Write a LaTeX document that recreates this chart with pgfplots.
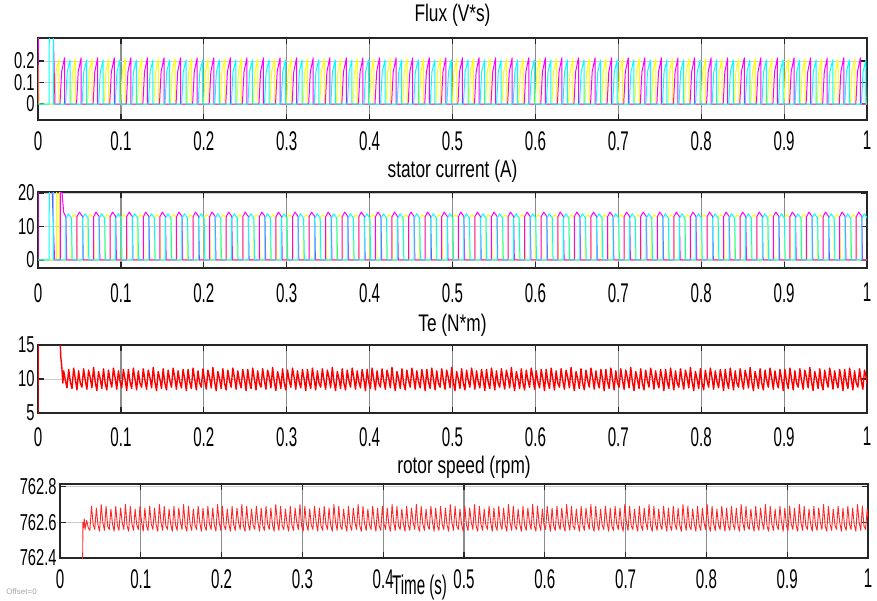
\documentclass[border=0pt]{standalone}
\usepackage{fontspec}
\setmainfont{Liberation Sans}
\newfontfamily\tfont{Liberation Sans}[FakeStretch=0.72]
\newfontfamily\xfont{Liberation Sans}[FakeStretch=0.56]
\newfontfamily\yfont{Liberation Sans}[FakeStretch=0.64]
\usepackage{pgfplots}
\usepackage{pgfplotstable}
\pgfplotsset{compat=1.18}
\definecolor{myel}{rgb}{1,1,0}
\definecolor{mmag}{rgb}{1,0,1}
\definecolor{mcya}{rgb}{0,1,1}
\definecolor{mred}{rgb}{1,0,0}
\pgfplotsset{
  scopeax/.style={
    scale only axis,
    anchor=north west,
    xmin=0, xmax=1000,
    xtick={0,100,200,300,400,500,600,700,800,900,1000},
    xticklabels={0,0.1,0.2,0.3,0.4,0.5,0.6,0.7,0.8,0.9,1},
    scaled ticks=false,
    tick align=inside,
    major tick length=3pt,
    tick style={black!85, line width=0.6pt},
    xmajorgrids, ymajorgrids,
    x grid style={black!45, line width=0.6pt},
    y grid style={black!20, line width=0.4pt},
    axis line style={black!85, line width=0.6pt},
    /pgf/number format/assume math mode=true,
    yticklabel style={font=\yfont\fontsize{11.5}{12}\selectfont, inner sep=1.5pt},
    every axis title shift=0pt,
    title style={font=\tfont\fontsize{12}{13}\selectfont, inner sep=1pt},
    every axis plot/.append style={line width=0.5pt, line join=round},
  },
  xtl/.style={xticklabel style={font=\xfont\fontsize{13.5}{14}\selectfont, inner sep=1pt, yshift=#1}},
}
\pgfplotstableread[row sep=\\]{
t te sp\\0 0 761\\0.2 30 761\\25 30 761.5\\26.8 15.5 762\\27.4 13.4 762.2\\28 12.6 762.38\\28.4 12.2 762.6\\29 11.3 762.57\\30 9.4 762.62\\31 11.2 762.56\\33 9.8 762.61\\35 8.7 762.57\\
37 11.4 762.555\\39 9.6 762.69\\41 8.6 762.59\\43 11.6 762.56\\45 10 762.68\\47 8.4 762.585\\
49 11.2 762.55\\51 9.4 762.7\\53 8.8 762.6\\55 11.5 762.555\\57 9.8 762.69\\59 8.5 762.58\\
61 11.3 762.56\\63 10.2 762.675\\65 8.7 762.59\\67 11.7 762.55\\69 9.6 762.69\\71 8.3 762.585\\
73 11.1 762.555\\75 10 762.68\\77 8.6 762.6\\79 11.5 762.56\\81 9.4 762.7\\83 8.4 762.58\\
85 11.3 762.55\\87 9.8 762.69\\89 8.8 762.59\\91 11.6 762.555\\93 10.2 762.675\\95 8.5 762.585\\
97 11.2 762.56\\99 9.6 762.69\\101 8.7 762.6\\103 11.4 762.55\\105 10 762.68\\107 8.3 762.58\\
109 11.4 762.555\\111 9.6 762.69\\113 8.6 762.59\\115 11.6 762.56\\117 10 762.68\\119 8.4 762.585\\
121 11.2 762.55\\123 9.4 762.7\\125 8.8 762.6\\127 11.5 762.555\\129 9.8 762.69\\131 8.5 762.58\\
133 11.3 762.56\\135 10.2 762.675\\137 8.7 762.59\\139 11.7 762.55\\141 9.6 762.69\\143 8.3 762.585\\
145 11.1 762.555\\147 10 762.68\\149 8.6 762.6\\151 11.5 762.56\\153 9.4 762.7\\155 8.4 762.58\\
157 11.3 762.55\\159 9.8 762.69\\161 8.8 762.59\\163 11.6 762.555\\165 10.2 762.675\\167 8.5 762.585\\
169 11.2 762.56\\171 9.6 762.69\\173 8.7 762.6\\175 11.4 762.55\\177 10 762.68\\179 8.3 762.58\\
181 11.4 762.555\\183 9.6 762.69\\185 8.6 762.59\\187 11.6 762.56\\189 10 762.68\\191 8.4 762.585\\
193 11.2 762.55\\195 9.4 762.7\\197 8.8 762.6\\199 11.5 762.555\\201 9.8 762.69\\203 8.5 762.58\\
205 11.3 762.56\\207 10.2 762.675\\209 8.7 762.59\\211 11.7 762.55\\213 9.6 762.69\\215 8.3 762.585\\
217 11.1 762.555\\219 10 762.68\\221 8.6 762.6\\223 11.5 762.56\\225 9.4 762.7\\227 8.4 762.58\\
229 11.3 762.55\\231 9.8 762.69\\233 8.8 762.59\\235 11.6 762.555\\237 10.2 762.675\\239 8.5 762.585\\
241 11.2 762.56\\243 9.6 762.69\\245 8.7 762.6\\247 11.4 762.55\\249 10 762.68\\251 8.3 762.58\\
253 11.4 762.555\\255 9.6 762.69\\257 8.6 762.59\\259 11.6 762.56\\261 10 762.68\\263 8.4 762.585\\
265 11.2 762.55\\267 9.4 762.7\\269 8.8 762.6\\271 11.5 762.555\\273 9.8 762.69\\275 8.5 762.58\\
277 11.3 762.56\\279 10.2 762.675\\281 8.7 762.59\\283 11.7 762.55\\285 9.6 762.69\\287 8.3 762.585\\
289 11.1 762.555\\291 10 762.68\\293 8.6 762.6\\295 11.5 762.56\\297 9.4 762.7\\299 8.4 762.58\\
301 11.3 762.55\\303 9.8 762.69\\305 8.8 762.59\\307 11.6 762.555\\309 10.2 762.675\\311 8.5 762.585\\
313 11.2 762.56\\315 9.6 762.69\\317 8.7 762.6\\319 11.4 762.55\\321 10 762.68\\323 8.3 762.58\\
325 11.4 762.555\\327 9.6 762.69\\329 8.6 762.59\\331 11.6 762.56\\333 10 762.68\\335 8.4 762.585\\
337 11.2 762.55\\339 9.4 762.7\\341 8.8 762.6\\343 11.5 762.555\\345 9.8 762.69\\347 8.5 762.58\\
349 11.3 762.56\\351 10.2 762.675\\353 8.7 762.59\\355 11.7 762.55\\357 9.6 762.69\\359 8.3 762.585\\
361 11.1 762.555\\363 10 762.68\\365 8.6 762.6\\367 11.5 762.56\\369 9.4 762.7\\371 8.4 762.58\\
373 11.3 762.55\\375 9.8 762.69\\377 8.8 762.59\\379 11.6 762.555\\381 10.2 762.675\\383 8.5 762.585\\
385 11.2 762.56\\387 9.6 762.69\\389 8.7 762.6\\391 11.4 762.55\\393 10 762.68\\395 8.3 762.58\\
397 11.4 762.555\\399 9.6 762.69\\401 8.6 762.59\\403 11.6 762.56\\405 10 762.68\\407 8.4 762.585\\
409 11.2 762.55\\411 9.4 762.7\\413 8.8 762.6\\415 11.5 762.555\\417 9.8 762.69\\419 8.5 762.58\\
421 11.3 762.56\\423 10.2 762.675\\425 8.7 762.59\\427 11.7 762.55\\429 9.6 762.69\\431 8.3 762.585\\
433 11.1 762.555\\435 10 762.68\\437 8.6 762.6\\439 11.5 762.56\\441 9.4 762.7\\443 8.4 762.58\\
445 11.3 762.55\\447 9.8 762.69\\449 8.8 762.59\\451 11.6 762.555\\453 10.2 762.675\\455 8.5 762.585\\
457 11.2 762.56\\459 9.6 762.69\\461 8.7 762.6\\463 11.4 762.55\\465 10 762.68\\467 8.3 762.58\\
469 11.4 762.555\\471 9.6 762.69\\473 8.6 762.59\\475 11.6 762.56\\477 10 762.68\\479 8.4 762.585\\
481 11.2 762.55\\483 9.4 762.7\\485 8.8 762.6\\487 11.5 762.555\\489 9.8 762.69\\491 8.5 762.58\\
493 11.3 762.56\\495 10.2 762.675\\497 8.7 762.59\\499 11.7 762.55\\501 9.6 762.69\\503 8.3 762.585\\
505 11.1 762.555\\507 10 762.68\\509 8.6 762.6\\511 11.5 762.56\\513 9.4 762.7\\515 8.4 762.58\\
517 11.3 762.55\\519 9.8 762.69\\521 8.8 762.59\\523 11.6 762.555\\525 10.2 762.675\\527 8.5 762.585\\
529 11.2 762.56\\531 9.6 762.69\\533 8.7 762.6\\535 11.4 762.55\\537 10 762.68\\539 8.3 762.58\\
541 11.4 762.555\\543 9.6 762.69\\545 8.6 762.59\\547 11.6 762.56\\549 10 762.68\\551 8.4 762.585\\
553 11.2 762.55\\555 9.4 762.7\\557 8.8 762.6\\559 11.5 762.555\\561 9.8 762.69\\563 8.5 762.58\\
565 11.3 762.56\\567 10.2 762.675\\569 8.7 762.59\\571 11.7 762.55\\573 9.6 762.69\\575 8.3 762.585\\
577 11.1 762.555\\579 10 762.68\\581 8.6 762.6\\583 11.5 762.56\\585 9.4 762.7\\587 8.4 762.58\\
589 11.3 762.55\\591 9.8 762.69\\593 8.8 762.59\\595 11.6 762.555\\597 10.2 762.675\\599 8.5 762.585\\
601 11.2 762.56\\603 9.6 762.69\\605 8.7 762.6\\607 11.4 762.55\\609 10 762.68\\611 8.3 762.58\\
613 11.4 762.555\\615 9.6 762.69\\617 8.6 762.59\\619 11.6 762.56\\621 10 762.68\\623 8.4 762.585\\
625 11.2 762.55\\627 9.4 762.7\\629 8.8 762.6\\631 11.5 762.555\\633 9.8 762.69\\635 8.5 762.58\\
637 11.3 762.56\\639 10.2 762.675\\641 8.7 762.59\\643 11.7 762.55\\645 9.6 762.69\\647 8.3 762.585\\
649 11.1 762.555\\651 10 762.68\\653 8.6 762.6\\655 11.5 762.56\\657 9.4 762.7\\659 8.4 762.58\\
661 11.3 762.55\\663 9.8 762.69\\665 8.8 762.59\\667 11.6 762.555\\669 10.2 762.675\\671 8.5 762.585\\
673 11.2 762.56\\675 9.6 762.69\\677 8.7 762.6\\679 11.4 762.55\\681 10 762.68\\683 8.3 762.58\\
685 11.4 762.555\\687 9.6 762.69\\689 8.6 762.59\\691 11.6 762.56\\693 10 762.68\\695 8.4 762.585\\
697 11.2 762.55\\699 9.4 762.7\\701 8.8 762.6\\703 11.5 762.555\\705 9.8 762.69\\707 8.5 762.58\\
709 11.3 762.56\\711 10.2 762.675\\713 8.7 762.59\\715 11.7 762.55\\717 9.6 762.69\\719 8.3 762.585\\
721 11.1 762.555\\723 10 762.68\\725 8.6 762.6\\727 11.5 762.56\\729 9.4 762.7\\731 8.4 762.58\\
733 11.3 762.55\\735 9.8 762.69\\737 8.8 762.59\\739 11.6 762.555\\741 10.2 762.675\\743 8.5 762.585\\
745 11.2 762.56\\747 9.6 762.69\\749 8.7 762.6\\751 11.4 762.55\\753 10 762.68\\755 8.3 762.58\\
757 11.4 762.555\\759 9.6 762.69\\761 8.6 762.59\\763 11.6 762.56\\765 10 762.68\\767 8.4 762.585\\
769 11.2 762.55\\771 9.4 762.7\\773 8.8 762.6\\775 11.5 762.555\\777 9.8 762.69\\779 8.5 762.58\\
781 11.3 762.56\\783 10.2 762.675\\785 8.7 762.59\\787 11.7 762.55\\789 9.6 762.69\\791 8.3 762.585\\
793 11.1 762.555\\795 10 762.68\\797 8.6 762.6\\799 11.5 762.56\\801 9.4 762.7\\803 8.4 762.58\\
805 11.3 762.55\\807 9.8 762.69\\809 8.8 762.59\\811 11.6 762.555\\813 10.2 762.675\\815 8.5 762.585\\
817 11.2 762.56\\819 9.6 762.69\\821 8.7 762.6\\823 11.4 762.55\\825 10 762.68\\827 8.3 762.58\\
829 11.4 762.555\\831 9.6 762.69\\833 8.6 762.59\\835 11.6 762.56\\837 10 762.68\\839 8.4 762.585\\
841 11.2 762.55\\843 9.4 762.7\\845 8.8 762.6\\847 11.5 762.555\\849 9.8 762.69\\851 8.5 762.58\\
853 11.3 762.56\\855 10.2 762.675\\857 8.7 762.59\\859 11.7 762.55\\861 9.6 762.69\\863 8.3 762.585\\
865 11.1 762.555\\867 10 762.68\\869 8.6 762.6\\871 11.5 762.56\\873 9.4 762.7\\875 8.4 762.58\\
877 11.3 762.55\\879 9.8 762.69\\881 8.8 762.59\\883 11.6 762.555\\885 10.2 762.675\\887 8.5 762.585\\
889 11.2 762.56\\891 9.6 762.69\\893 8.7 762.6\\895 11.4 762.55\\897 10 762.68\\899 8.3 762.58\\
901 11.4 762.555\\903 9.6 762.69\\905 8.6 762.59\\907 11.6 762.56\\909 10 762.68\\911 8.4 762.585\\
913 11.2 762.55\\915 9.4 762.7\\917 8.8 762.6\\919 11.5 762.555\\921 9.8 762.69\\923 8.5 762.58\\
925 11.3 762.56\\927 10.2 762.675\\929 8.7 762.59\\931 11.7 762.55\\933 9.6 762.69\\935 8.3 762.585\\
937 11.1 762.555\\939 10 762.68\\941 8.6 762.6\\943 11.5 762.56\\945 9.4 762.7\\947 8.4 762.58\\
949 11.3 762.55\\951 9.8 762.69\\953 8.8 762.59\\955 11.6 762.555\\957 10.2 762.675\\959 8.5 762.585\\
961 11.2 762.56\\963 9.6 762.69\\965 8.7 762.6\\967 11.4 762.55\\969 10 762.68\\971 8.3 762.58\\
973 11.4 762.555\\975 9.6 762.69\\977 8.6 762.59\\979 11.6 762.56\\981 10 762.68\\983 8.4 762.585\\
985 11.2 762.55\\987 9.4 762.7\\989 8.8 762.6\\991 11.5 762.555\\993 9.8 762.69\\995 8.5 762.58\\
997 11.3 762.56\\999 10.2 762.675\\1001 8.7 762.59\\
}\tsdata
\begin{document}
\begin{tikzpicture}
\path[use as bounding box] (0,0) rectangle (438.5pt,-300pt);
% ---------------- Flux
\begin{axis}[scopeax, xtl=-4.5pt, at={(19pt,-19pt)}, width=414.5pt, height=41pt,
  ymin=-0.074, ymax=0.307, ytick={0,0.1,0.2}, yticklabels={0,0.1,0.2},
  title={Flux (V*s)}, title style={yshift=4.5pt}]
\addplot[myel] table[row sep=\\]{x y\\0 0\\0.3 .18\\1 .18\\1.3 0\\
19.8 0\\21.8 .15\\25.3 .21\\25.3 0\\39.8 0\\41.8 .15\\45.3 .21\\45.3 0\\
59.8 0\\61.8 .15\\65.3 .21\\65.3 0\\79.8 0\\81.8 .15\\85.3 .21\\85.3 0\\
99.8 0\\101.8 .15\\105.3 .21\\105.3 0\\119.8 0\\121.8 .15\\125.3 .21\\125.3 0\\
139.8 0\\141.8 .15\\145.3 .21\\145.3 0\\159.8 0\\161.8 .15\\165.3 .21\\165.3 0\\
179.8 0\\181.8 .15\\185.3 .21\\185.3 0\\199.8 0\\201.8 .15\\205.3 .21\\205.3 0\\
219.8 0\\221.8 .15\\225.3 .21\\225.3 0\\239.8 0\\241.8 .15\\245.3 .21\\245.3 0\\
259.8 0\\261.8 .15\\265.3 .21\\265.3 0\\279.8 0\\281.8 .15\\285.3 .21\\285.3 0\\
299.8 0\\301.8 .15\\305.3 .21\\305.3 0\\319.8 0\\321.8 .15\\325.3 .21\\325.3 0\\
339.8 0\\341.8 .15\\345.3 .21\\345.3 0\\359.8 0\\361.8 .15\\365.3 .21\\365.3 0\\
379.8 0\\381.8 .15\\385.3 .21\\385.3 0\\399.8 0\\401.8 .15\\405.3 .21\\405.3 0\\
419.8 0\\421.8 .15\\425.3 .21\\425.3 0\\439.8 0\\441.8 .15\\445.3 .21\\445.3 0\\
459.8 0\\461.8 .15\\465.3 .21\\465.3 0\\479.8 0\\481.8 .15\\485.3 .21\\485.3 0\\
499.8 0\\501.8 .15\\505.3 .21\\505.3 0\\519.8 0\\521.8 .15\\525.3 .21\\525.3 0\\
539.8 0\\541.8 .15\\545.3 .21\\545.3 0\\559.8 0\\561.8 .15\\565.3 .21\\565.3 0\\
579.8 0\\581.8 .15\\585.3 .21\\585.3 0\\599.8 0\\601.8 .15\\605.3 .21\\605.3 0\\
619.8 0\\621.8 .15\\625.3 .21\\625.3 0\\639.8 0\\641.8 .15\\645.3 .21\\645.3 0\\
659.8 0\\661.8 .15\\665.3 .21\\665.3 0\\679.8 0\\681.8 .15\\685.3 .21\\685.3 0\\
699.8 0\\701.8 .15\\705.3 .21\\705.3 0\\719.8 0\\721.8 .15\\725.3 .21\\725.3 0\\
739.8 0\\741.8 .15\\745.3 .21\\745.3 0\\759.8 0\\761.8 .15\\765.3 .21\\765.3 0\\
779.8 0\\781.8 .15\\785.3 .21\\785.3 0\\799.8 0\\801.8 .15\\805.3 .21\\805.3 0\\
819.8 0\\821.8 .15\\825.3 .21\\825.3 0\\839.8 0\\841.8 .15\\845.3 .21\\845.3 0\\
859.8 0\\861.8 .15\\865.3 .21\\865.3 0\\879.8 0\\881.8 .15\\885.3 .21\\885.3 0\\
899.8 0\\901.8 .15\\905.3 .21\\905.3 0\\919.8 0\\921.8 .15\\925.3 .21\\925.3 0\\
939.8 0\\941.8 .15\\945.3 .21\\945.3 0\\959.8 0\\961.8 .15\\965.3 .21\\965.3 0\\
979.8 0\\981.8 .15\\985.3 .21\\985.3 0\\999.8 0\\1001.8 .15\\
};
\addplot[mmag] table[row sep=\\]{x y\\0 0\\0.5 0.4\\18 0.4\\20.5 0\\
26.5 0\\28.5 .15\\32 .215\\32 0\\46.5 0\\48.5 .15\\52 .215\\52 0\\
66.5 0\\68.5 .15\\72 .215\\72 0\\86.5 0\\88.5 .15\\92 .215\\92 0\\
106.5 0\\108.5 .15\\112 .215\\112 0\\126.5 0\\128.5 .15\\132 .215\\132 0\\
146.5 0\\148.5 .15\\152 .215\\152 0\\166.5 0\\168.5 .15\\172 .215\\172 0\\
186.5 0\\188.5 .15\\192 .215\\192 0\\206.5 0\\208.5 .15\\212 .215\\212 0\\
226.5 0\\228.5 .15\\232 .215\\232 0\\246.5 0\\248.5 .15\\252 .215\\252 0\\
266.5 0\\268.5 .15\\272 .215\\272 0\\286.5 0\\288.5 .15\\292 .215\\292 0\\
306.5 0\\308.5 .15\\312 .215\\312 0\\326.5 0\\328.5 .15\\332 .215\\332 0\\
346.5 0\\348.5 .15\\352 .215\\352 0\\366.5 0\\368.5 .15\\372 .215\\372 0\\
386.5 0\\388.5 .15\\392 .215\\392 0\\406.5 0\\408.5 .15\\412 .215\\412 0\\
426.5 0\\428.5 .15\\432 .215\\432 0\\446.5 0\\448.5 .15\\452 .215\\452 0\\
466.5 0\\468.5 .15\\472 .215\\472 0\\486.5 0\\488.5 .15\\492 .215\\492 0\\
506.5 0\\508.5 .15\\512 .215\\512 0\\526.5 0\\528.5 .15\\532 .215\\532 0\\
546.5 0\\548.5 .15\\552 .215\\552 0\\566.5 0\\568.5 .15\\572 .215\\572 0\\
586.5 0\\588.5 .15\\592 .215\\592 0\\606.5 0\\608.5 .15\\612 .215\\612 0\\
626.5 0\\628.5 .15\\632 .215\\632 0\\646.5 0\\648.5 .15\\652 .215\\652 0\\
666.5 0\\668.5 .15\\672 .215\\672 0\\686.5 0\\688.5 .15\\692 .215\\692 0\\
706.5 0\\708.5 .15\\712 .215\\712 0\\726.5 0\\728.5 .15\\732 .215\\732 0\\
746.5 0\\748.5 .15\\752 .215\\752 0\\766.5 0\\768.5 .15\\772 .215\\772 0\\
786.5 0\\788.5 .15\\792 .215\\792 0\\806.5 0\\808.5 .15\\812 .215\\812 0\\
826.5 0\\828.5 .15\\832 .215\\832 0\\846.5 0\\848.5 .15\\852 .215\\852 0\\
866.5 0\\868.5 .15\\872 .215\\872 0\\886.5 0\\888.5 .15\\892 .215\\892 0\\
906.5 0\\908.5 .15\\912 .215\\912 0\\926.5 0\\928.5 .15\\932 .215\\932 0\\
946.5 0\\948.5 .15\\952 .215\\952 0\\966.5 0\\968.5 .15\\972 .215\\972 0\\
986.5 0\\988.5 .15\\992 .215\\992 0\\1002 0\\
};
\addplot[mcya] table[row sep=\\]{x y\\0 0\\13.5 0\\13.6 0.4\\18.4 0.4\\18.5 0\\
33.2 0\\35.2 .15\\38.7 .205\\38.7 0\\53.2 0\\55.2 .15\\58.7 .205\\58.7 0\\
73.2 0\\75.2 .15\\78.7 .205\\78.7 0\\93.2 0\\95.2 .15\\98.7 .205\\98.7 0\\
113.2 0\\115.2 .15\\118.7 .205\\118.7 0\\133.2 0\\135.2 .15\\138.7 .205\\138.7 0\\
153.2 0\\155.2 .15\\158.7 .205\\158.7 0\\173.2 0\\175.2 .15\\178.7 .205\\178.7 0\\
193.2 0\\195.2 .15\\198.7 .205\\198.7 0\\213.2 0\\215.2 .15\\218.7 .205\\218.7 0\\
233.2 0\\235.2 .15\\238.7 .205\\238.7 0\\253.2 0\\255.2 .15\\258.7 .205\\258.7 0\\
273.2 0\\275.2 .15\\278.7 .205\\278.7 0\\293.2 0\\295.2 .15\\298.7 .205\\298.7 0\\
313.2 0\\315.2 .15\\318.7 .205\\318.7 0\\333.2 0\\335.2 .15\\338.7 .205\\338.7 0\\
353.2 0\\355.2 .15\\358.7 .205\\358.7 0\\373.2 0\\375.2 .15\\378.7 .205\\378.7 0\\
393.2 0\\395.2 .15\\398.7 .205\\398.7 0\\413.2 0\\415.2 .15\\418.7 .205\\418.7 0\\
433.2 0\\435.2 .15\\438.7 .205\\438.7 0\\453.2 0\\455.2 .15\\458.7 .205\\458.7 0\\
473.2 0\\475.2 .15\\478.7 .205\\478.7 0\\493.2 0\\495.2 .15\\498.7 .205\\498.7 0\\
513.2 0\\515.2 .15\\518.7 .205\\518.7 0\\533.2 0\\535.2 .15\\538.7 .205\\538.7 0\\
553.2 0\\555.2 .15\\558.7 .205\\558.7 0\\573.2 0\\575.2 .15\\578.7 .205\\578.7 0\\
593.2 0\\595.2 .15\\598.7 .205\\598.7 0\\613.2 0\\615.2 .15\\618.7 .205\\618.7 0\\
633.2 0\\635.2 .15\\638.7 .205\\638.7 0\\653.2 0\\655.2 .15\\658.7 .205\\658.7 0\\
673.2 0\\675.2 .15\\678.7 .205\\678.7 0\\693.2 0\\695.2 .15\\698.7 .205\\698.7 0\\
713.2 0\\715.2 .15\\718.7 .205\\718.7 0\\733.2 0\\735.2 .15\\738.7 .205\\738.7 0\\
753.2 0\\755.2 .15\\758.7 .205\\758.7 0\\773.2 0\\775.2 .15\\778.7 .205\\778.7 0\\
793.2 0\\795.2 .15\\798.7 .205\\798.7 0\\813.2 0\\815.2 .15\\818.7 .205\\818.7 0\\
833.2 0\\835.2 .15\\838.7 .205\\838.7 0\\853.2 0\\855.2 .15\\858.7 .205\\858.7 0\\
873.2 0\\875.2 .15\\878.7 .205\\878.7 0\\893.2 0\\895.2 .15\\898.7 .205\\898.7 0\\
913.2 0\\915.2 .15\\918.7 .205\\918.7 0\\933.2 0\\935.2 .15\\938.7 .205\\938.7 0\\
953.2 0\\955.2 .15\\958.7 .205\\958.7 0\\973.2 0\\975.2 .15\\978.7 .205\\978.7 0\\
993.2 0\\995.2 .15\\998.7 .205\\998.7 0\\1002 0\\
};
\end{axis}
% ---------------- stator current
\begin{axis}[scopeax, xtl=-6.5pt, at={(19pt,-96pt)}, width=414.5pt, height=38pt,
  ymin=-2.4, ymax=20.3, ytick={0,10,20}, yticklabels={0,10,20},
  title={stator current (A)}, title style={yshift=3.5pt}]
\addplot[myel] table[row sep=\\]{x y\\0 0\\22.5 0\\22.6 21\\25.9 21\\26 0\\
40.3 0\\40.3 12.6\\43.3 13.5\\47 12.8\\47.9 0\\60.3 0\\60.3 12.6\\63.3 13.5\\67 12.8\\67.9 0\\
80.3 0\\80.3 12.6\\83.3 13.5\\87 12.8\\87.9 0\\100.3 0\\100.3 12.6\\103.3 13.5\\107 12.8\\107.9 0\\
120.3 0\\120.3 12.6\\123.3 13.5\\127 12.8\\127.9 0\\140.3 0\\140.3 12.6\\143.3 13.5\\147 12.8\\147.9 0\\
160.3 0\\160.3 12.6\\163.3 13.5\\167 12.8\\167.9 0\\180.3 0\\180.3 12.6\\183.3 13.5\\187 12.8\\187.9 0\\
200.3 0\\200.3 12.6\\203.3 13.5\\207 12.8\\207.9 0\\220.3 0\\220.3 12.6\\223.3 13.5\\227 12.8\\227.9 0\\
240.3 0\\240.3 12.6\\243.3 13.5\\247 12.8\\247.9 0\\260.3 0\\260.3 12.6\\263.3 13.5\\267 12.8\\267.9 0\\
280.3 0\\280.3 12.6\\283.3 13.5\\287 12.8\\287.9 0\\300.3 0\\300.3 12.6\\303.3 13.5\\307 12.8\\307.9 0\\
320.3 0\\320.3 12.6\\323.3 13.5\\327 12.8\\327.9 0\\340.3 0\\340.3 12.6\\343.3 13.5\\347 12.8\\347.9 0\\
360.3 0\\360.3 12.6\\363.3 13.5\\367 12.8\\367.9 0\\380.3 0\\380.3 12.6\\383.3 13.5\\387 12.8\\387.9 0\\
400.3 0\\400.3 12.6\\403.3 13.5\\407 12.8\\407.9 0\\420.3 0\\420.3 12.6\\423.3 13.5\\427 12.8\\427.9 0\\
440.3 0\\440.3 12.6\\443.3 13.5\\447 12.8\\447.9 0\\460.3 0\\460.3 12.6\\463.3 13.5\\467 12.8\\467.9 0\\
480.3 0\\480.3 12.6\\483.3 13.5\\487 12.8\\487.9 0\\500.3 0\\500.3 12.6\\503.3 13.5\\507 12.8\\507.9 0\\
520.3 0\\520.3 12.6\\523.3 13.5\\527 12.8\\527.9 0\\540.3 0\\540.3 12.6\\543.3 13.5\\547 12.8\\547.9 0\\
560.3 0\\560.3 12.6\\563.3 13.5\\567 12.8\\567.9 0\\580.3 0\\580.3 12.6\\583.3 13.5\\587 12.8\\587.9 0\\
600.3 0\\600.3 12.6\\603.3 13.5\\607 12.8\\607.9 0\\620.3 0\\620.3 12.6\\623.3 13.5\\627 12.8\\627.9 0\\
640.3 0\\640.3 12.6\\643.3 13.5\\647 12.8\\647.9 0\\660.3 0\\660.3 12.6\\663.3 13.5\\667 12.8\\667.9 0\\
680.3 0\\680.3 12.6\\683.3 13.5\\687 12.8\\687.9 0\\700.3 0\\700.3 12.6\\703.3 13.5\\707 12.8\\707.9 0\\
720.3 0\\720.3 12.6\\723.3 13.5\\727 12.8\\727.9 0\\740.3 0\\740.3 12.6\\743.3 13.5\\747 12.8\\747.9 0\\
760.3 0\\760.3 12.6\\763.3 13.5\\767 12.8\\767.9 0\\780.3 0\\780.3 12.6\\783.3 13.5\\787 12.8\\787.9 0\\
800.3 0\\800.3 12.6\\803.3 13.5\\807 12.8\\807.9 0\\820.3 0\\820.3 12.6\\823.3 13.5\\827 12.8\\827.9 0\\
840.3 0\\840.3 12.6\\843.3 13.5\\847 12.8\\847.9 0\\860.3 0\\860.3 12.6\\863.3 13.5\\867 12.8\\867.9 0\\
880.3 0\\880.3 12.6\\883.3 13.5\\887 12.8\\887.9 0\\900.3 0\\900.3 12.6\\903.3 13.5\\907 12.8\\907.9 0\\
920.3 0\\920.3 12.6\\923.3 13.5\\927 12.8\\927.9 0\\940.3 0\\940.3 12.6\\943.3 13.5\\947 12.8\\947.9 0\\
960.3 0\\960.3 12.6\\963.3 13.5\\967 12.8\\967.9 0\\980.3 0\\980.3 12.6\\983.3 13.5\\987 12.8\\987.9 0\\1002 0\\
};
\addplot[mmag] table[row sep=\\]{x y\\0 0\\0.3 21\\17 21\\20 0\\27 0\\27 21\\29 20\\31 14.2\\33.7 12.9\\34.6 0\\
47 0\\47 12.9\\50 14.3\\53.7 13\\54.6 0\\67 0\\67 12.9\\70 14.3\\73.7 13\\74.6 0\\
87 0\\87 12.9\\90 14.3\\93.7 13\\94.6 0\\107 0\\107 12.9\\110 14.3\\113.7 13\\114.6 0\\
127 0\\127 12.9\\130 14.3\\133.7 13\\134.6 0\\147 0\\147 12.9\\150 14.3\\153.7 13\\154.6 0\\
167 0\\167 12.9\\170 14.3\\173.7 13\\174.6 0\\187 0\\187 12.9\\190 14.3\\193.7 13\\194.6 0\\
207 0\\207 12.9\\210 14.3\\213.7 13\\214.6 0\\227 0\\227 12.9\\230 14.3\\233.7 13\\234.6 0\\
247 0\\247 12.9\\250 14.3\\253.7 13\\254.6 0\\267 0\\267 12.9\\270 14.3\\273.7 13\\274.6 0\\
287 0\\287 12.9\\290 14.3\\293.7 13\\294.6 0\\307 0\\307 12.9\\310 14.3\\313.7 13\\314.6 0\\
327 0\\327 12.9\\330 14.3\\333.7 13\\334.6 0\\347 0\\347 12.9\\350 14.3\\353.7 13\\354.6 0\\
367 0\\367 12.9\\370 14.3\\373.7 13\\374.6 0\\387 0\\387 12.9\\390 14.3\\393.7 13\\394.6 0\\
407 0\\407 12.9\\410 14.3\\413.7 13\\414.6 0\\427 0\\427 12.9\\430 14.3\\433.7 13\\434.6 0\\
447 0\\447 12.9\\450 14.3\\453.7 13\\454.6 0\\467 0\\467 12.9\\470 14.3\\473.7 13\\474.6 0\\
487 0\\487 12.9\\490 14.3\\493.7 13\\494.6 0\\507 0\\507 12.9\\510 14.3\\513.7 13\\514.6 0\\
527 0\\527 12.9\\530 14.3\\533.7 13\\534.6 0\\547 0\\547 12.9\\550 14.3\\553.7 13\\554.6 0\\
567 0\\567 12.9\\570 14.3\\573.7 13\\574.6 0\\587 0\\587 12.9\\590 14.3\\593.7 13\\594.6 0\\
607 0\\607 12.9\\610 14.3\\613.7 13\\614.6 0\\627 0\\627 12.9\\630 14.3\\633.7 13\\634.6 0\\
647 0\\647 12.9\\650 14.3\\653.7 13\\654.6 0\\667 0\\667 12.9\\670 14.3\\673.7 13\\674.6 0\\
687 0\\687 12.9\\690 14.3\\693.7 13\\694.6 0\\707 0\\707 12.9\\710 14.3\\713.7 13\\714.6 0\\
727 0\\727 12.9\\730 14.3\\733.7 13\\734.6 0\\747 0\\747 12.9\\750 14.3\\753.7 13\\754.6 0\\
767 0\\767 12.9\\770 14.3\\773.7 13\\774.6 0\\787 0\\787 12.9\\790 14.3\\793.7 13\\794.6 0\\
807 0\\807 12.9\\810 14.3\\813.7 13\\814.6 0\\827 0\\827 12.9\\830 14.3\\833.7 13\\834.6 0\\
847 0\\847 12.9\\850 14.3\\853.7 13\\854.6 0\\867 0\\867 12.9\\870 14.3\\873.7 13\\874.6 0\\
887 0\\887 12.9\\890 14.3\\893.7 13\\894.6 0\\907 0\\907 12.9\\910 14.3\\913.7 13\\914.6 0\\
927 0\\927 12.9\\930 14.3\\933.7 13\\934.6 0\\947 0\\947 12.9\\950 14.3\\953.7 13\\954.6 0\\
967 0\\967 12.9\\970 14.3\\973.7 13\\974.6 0\\987 0\\987 12.9\\990 14.3\\993.7 13\\994.6 0\\1002 0\\
};
\addplot[mcya] table[row sep=\\]{x y\\0 0\\13.5 0\\13.6 21\\18.4 21\\18.5 0\\
33.7 0\\33.7 12.4\\36.7 13.8\\40.4 12.5\\41.3 0\\53.7 0\\53.7 12.4\\56.7 13.8\\60.4 12.5\\61.3 0\\
73.7 0\\73.7 12.4\\76.7 13.8\\80.4 12.5\\81.3 0\\93.7 0\\93.7 12.4\\96.7 13.8\\100.4 12.5\\101.3 0\\
113.7 0\\113.7 12.4\\116.7 13.8\\120.4 12.5\\121.3 0\\133.7 0\\133.7 12.4\\136.7 13.8\\140.4 12.5\\141.3 0\\
153.7 0\\153.7 12.4\\156.7 13.8\\160.4 12.5\\161.3 0\\173.7 0\\173.7 12.4\\176.7 13.8\\180.4 12.5\\181.3 0\\
193.7 0\\193.7 12.4\\196.7 13.8\\200.4 12.5\\201.3 0\\213.7 0\\213.7 12.4\\216.7 13.8\\220.4 12.5\\221.3 0\\
233.7 0\\233.7 12.4\\236.7 13.8\\240.4 12.5\\241.3 0\\253.7 0\\253.7 12.4\\256.7 13.8\\260.4 12.5\\261.3 0\\
273.7 0\\273.7 12.4\\276.7 13.8\\280.4 12.5\\281.3 0\\293.7 0\\293.7 12.4\\296.7 13.8\\300.4 12.5\\301.3 0\\
313.7 0\\313.7 12.4\\316.7 13.8\\320.4 12.5\\321.3 0\\333.7 0\\333.7 12.4\\336.7 13.8\\340.4 12.5\\341.3 0\\
353.7 0\\353.7 12.4\\356.7 13.8\\360.4 12.5\\361.3 0\\373.7 0\\373.7 12.4\\376.7 13.8\\380.4 12.5\\381.3 0\\
393.7 0\\393.7 12.4\\396.7 13.8\\400.4 12.5\\401.3 0\\413.7 0\\413.7 12.4\\416.7 13.8\\420.4 12.5\\421.3 0\\
433.7 0\\433.7 12.4\\436.7 13.8\\440.4 12.5\\441.3 0\\453.7 0\\453.7 12.4\\456.7 13.8\\460.4 12.5\\461.3 0\\
473.7 0\\473.7 12.4\\476.7 13.8\\480.4 12.5\\481.3 0\\493.7 0\\493.7 12.4\\496.7 13.8\\500.4 12.5\\501.3 0\\
513.7 0\\513.7 12.4\\516.7 13.8\\520.4 12.5\\521.3 0\\533.7 0\\533.7 12.4\\536.7 13.8\\540.4 12.5\\541.3 0\\
553.7 0\\553.7 12.4\\556.7 13.8\\560.4 12.5\\561.3 0\\573.7 0\\573.7 12.4\\576.7 13.8\\580.4 12.5\\581.3 0\\
593.7 0\\593.7 12.4\\596.7 13.8\\600.4 12.5\\601.3 0\\613.7 0\\613.7 12.4\\616.7 13.8\\620.4 12.5\\621.3 0\\
633.7 0\\633.7 12.4\\636.7 13.8\\640.4 12.5\\641.3 0\\653.7 0\\653.7 12.4\\656.7 13.8\\660.4 12.5\\661.3 0\\
673.7 0\\673.7 12.4\\676.7 13.8\\680.4 12.5\\681.3 0\\693.7 0\\693.7 12.4\\696.7 13.8\\700.4 12.5\\701.3 0\\
713.7 0\\713.7 12.4\\716.7 13.8\\720.4 12.5\\721.3 0\\733.7 0\\733.7 12.4\\736.7 13.8\\740.4 12.5\\741.3 0\\
753.7 0\\753.7 12.4\\756.7 13.8\\760.4 12.5\\761.3 0\\773.7 0\\773.7 12.4\\776.7 13.8\\780.4 12.5\\781.3 0\\
793.7 0\\793.7 12.4\\796.7 13.8\\800.4 12.5\\801.3 0\\813.7 0\\813.7 12.4\\816.7 13.8\\820.4 12.5\\821.3 0\\
833.7 0\\833.7 12.4\\836.7 13.8\\840.4 12.5\\841.3 0\\853.7 0\\853.7 12.4\\856.7 13.8\\860.4 12.5\\861.3 0\\
873.7 0\\873.7 12.4\\876.7 13.8\\880.4 12.5\\881.3 0\\893.7 0\\893.7 12.4\\896.7 13.8\\900.4 12.5\\901.3 0\\
913.7 0\\913.7 12.4\\916.7 13.8\\920.4 12.5\\921.3 0\\933.7 0\\933.7 12.4\\936.7 13.8\\940.4 12.5\\941.3 0\\
953.7 0\\953.7 12.4\\956.7 13.8\\960.4 12.5\\961.3 0\\973.7 0\\973.7 12.4\\976.7 13.8\\980.4 12.5\\981.3 0\\
993.7 0\\993.7 12.4\\996.7 13.8\\1000.4 12.5\\1001.3 0\\
};
\end{axis}
% ---------------- Te
\begin{axis}[scopeax, xtl=-6pt, at={(19pt,-172.5pt)}, width=414.5pt, height=34pt,
  ymin=5, ymax=15, ytick={5,10,15}, yticklabels={5,10,15},
  title={Te (N*m)}, title style={yshift=3pt}]
\addplot[mred, line width=0.7pt] table[x=t, y=te]{\tsdata};
\end{axis}
% ---------------- rotor speed
\begin{axis}[scopeax, xtl=-4.5pt, at={(30pt,-242pt)}, width=404pt, height=37pt,
  ymin=762.4, ymax=762.815, ytick={762.4,762.6,762.8}, yticklabels={762.4,762.6,762.8},
  title={rotor speed (rpm)}, title style={yshift=1.5pt},
  xlabel={Time (s)},
  xlabel style={font=\xfont\fontsize{13.5}{14}\selectfont, at={(rel axis cs:0.445,0)}, anchor=north, inner sep=0pt, yshift=-8.5pt}]
\addplot[mred!85, line width=0.45pt] table[x=t, y=sp]{\tsdata};
\end{axis}
\node[anchor=west, font=\fontsize{4}{4}\selectfont, text=gray!70, inner sep=0pt] at (3pt,-296pt) {Offset=0};
\end{tikzpicture}
\end{document}
